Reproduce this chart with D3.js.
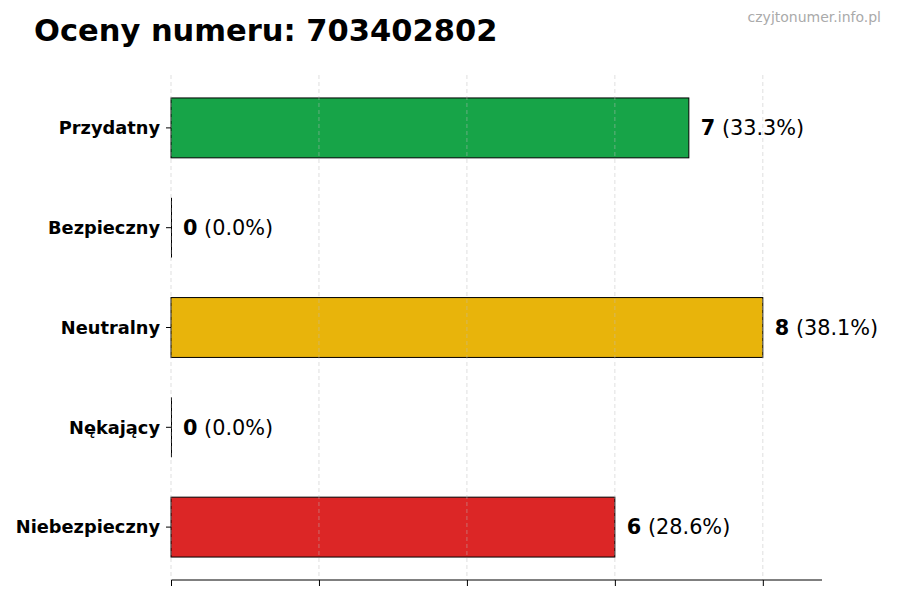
<!DOCTYPE html>
<html>
<head>
<meta charset="utf-8">
<script src="https://cdn.jsdelivr.net/npm/d3@7"></script>
<style>
  body { margin: 0; background: #fff; }
  text { font-family: "DejaVu Sans", sans-serif; }
</style>
</head>
<body>
<div id="chart"></div>
<script>
var categories = ["Przydatny", "Bezpieczny", "Neutralny", "Nękający", "Niebezpieczny"];
var counts = [7, 0, 8, 0, 6];
var percents = ["33.3%", "0.0%", "38.1%", "0.0%", "28.6%"];
var colors = ["#17a448", "#2a7de1", "#e8b40b", "#f08a1c", "#dc2626"];
var xTicks = [0, 2, 4, 6, 8];

var svgWidth = 900;
var svgHeight = 600;
var margin = { top: 75, right: 78, bottom: 20, left: 171 };
var width = svgWidth - margin.left - margin.right;
var height = svgHeight - margin.top - margin.bottom;

var svg = d3.select("#chart")
  .append("svg")
  .attr("width", svgWidth)
  .attr("height", svgHeight);

svg.append("text")
  .attr("x", 34)
  .attr("y", 41)
  .attr("font-size", 30.5)
  .attr("font-weight", "bold")
  .text("Oceny numeru: 703402802");

svg.append("text")
  .attr("x", 881)
  .attr("y", 22)
  .attr("text-anchor", "end")
  .attr("font-size", 14)
  .attr("fill", "#aaa")
  .text("czyjtonumer.info.pl");

var chartGroup = svg.append("g")
  .attr("transform", `translate(${margin.left}, ${margin.top})`);

var xScale = d3.scaleLinear()
  .domain([0, d3.max(counts) * 1.1])
  .range([0, width]);

// matplotlib-like: bar height 0.6 with 5% margins
var yScale = d3.scaleLinear()
  .domain([-0.53, categories.length - 1 + 0.53])
  .range([0, height]);
var barH = yScale(0.6) - yScale(0);

// bars
chartGroup.selectAll("rect.bar")
  .data(counts)
  .enter()
  .append("rect")
  .attr("class", "bar")
  .attr("x", 0)
  .attr("y", (d, i) => yScale(i) - barH / 2)
  .attr("width", d => xScale(d))
  .attr("height", barH)
  .attr("fill", (d, i) => colors[i])
  .attr("stroke", "#000")
  .attr("stroke-width", 1);

// zero-width bars still show their edge
chartGroup.selectAll("line.zero")
  .data(counts.map((d, i) => ({ v: d, i: i })).filter(d => d.v === 0))
  .enter()
  .append("line")
  .attr("class", "zero")
  .attr("x1", 0.5)
  .attr("x2", 0.5)
  .attr("y1", d => yScale(d.i) - barH / 2)
  .attr("y2", d => yScale(d.i) + barH / 2)
  .attr("stroke", "#000")
  .attr("stroke-width", 1);

// grid on top, faint
chartGroup.selectAll("line.grid")
  .data(xTicks)
  .enter()
  .append("line")
  .attr("class", "grid")
  .attr("x1", d => xScale(d))
  .attr("x2", d => xScale(d))
  .attr("y1", 0)
  .attr("y2", height)
  .attr("stroke", "#bbb")
  .attr("stroke-opacity", 0.6)
  .attr("stroke-dasharray", "4,3")
  .attr("stroke-width", 0.8);

// bottom axis (no labels)
var bottomAxis = d3.axisBottom(xScale)
  .tickValues(xTicks)
  .tickFormat("")
  .tickSize(6);
var xAxis = chartGroup.append("g")
  .attr("transform", `translate(0, ${height})`)
  .call(bottomAxis);
xAxis.select(".domain").attr("d", `M0.5,0H${width}`).attr("stroke", "#000");
xAxis.selectAll(".tick line").attr("stroke", "#000");

// left ticks + labels
var yGroup = chartGroup.append("g");
yGroup.selectAll("line")
  .data(categories)
  .enter()
  .append("line")
  .attr("x1", -5)
  .attr("x2", 0)
  .attr("y1", (d, i) => yScale(i))
  .attr("y2", (d, i) => yScale(i))
  .attr("stroke", "#000");
yGroup.selectAll("text")
  .data(categories)
  .enter()
  .append("text")
  .attr("x", -11)
  .attr("y", (d, i) => yScale(i))
  .attr("dy", "0.35em")
  .attr("text-anchor", "end")
  .attr("font-size", 17.8)
  .attr("font-weight", "bold")
  .text(d => d);

// value labels
var labels = chartGroup.selectAll("text.val")
  .data(counts)
  .enter()
  .append("text")
  .attr("class", "val")
  .attr("x", d => xScale(d) + 12)
  .attr("y", (d, i) => yScale(i))
  .attr("dy", "0.35em")
  .attr("font-size", 20.8);
labels.append("tspan").attr("font-weight", "bold").text(d => d);
labels.append("tspan").text((d, i) => " (" + percents[i] + ")");
</script>
</body>
</html>
